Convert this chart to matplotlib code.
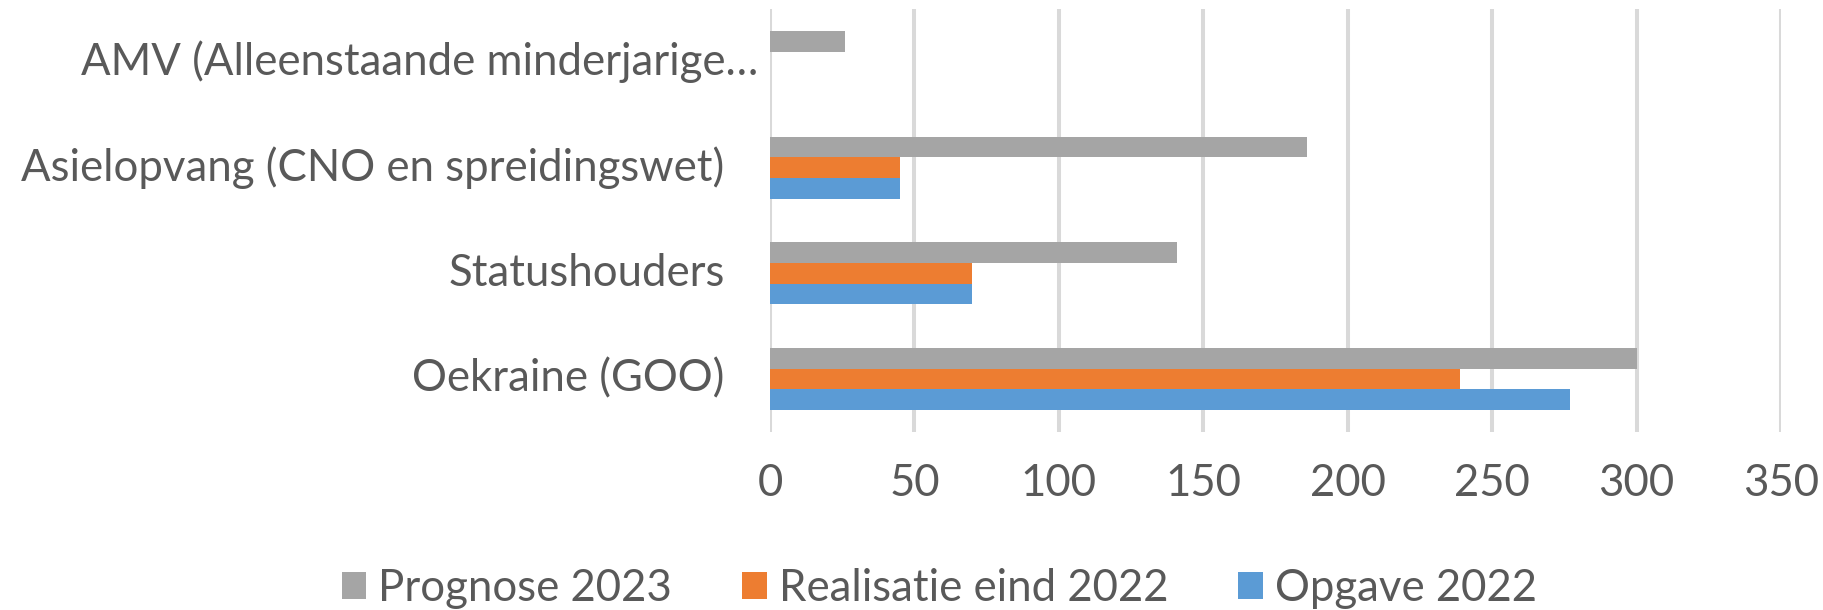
# horizontal grouped bar chart: opvang per categorie
import matplotlib
matplotlib.use('Agg')
import matplotlib.pyplot as plt
import numpy as np

# data (top to bottom as in the chart)
categories = ['AMV (Alleenstaande minderjarige\u2026',
              'Asielopvang (CNO en spreidingswet)',
              'Statushouders',
              'Oekraine (GOO)']
prognose2023 = [26, 186, 141, 300]
realisatie2022 = [0, 45, 70, 239]
opgave2022 = [0, 45, 70, 277]
xTicks = [0, 50, 100, 150, 200, 250, 300, 350]

# colours
grey = '#A5A5A5'
orange = '#ED7D31'
blue = '#5B9BD5'
textColor = '#595959'
gridColor = '#D9D9D9'

plt.rcParams['font.family'] = ['Lato', 'DejaVu Sans']
fontSize = 31.5

fig = plt.figure(figsize=(18.24, 6.10), dpi=100)
ax = fig.add_axes([770/1824, 1 - 432/610, 1011/1824, 423/610])

yPos = np.arange(len(categories))[::-1]  # first category at the top
h = 0.196

ax.barh(yPos - h, opgave2022, height=h, color=blue, label='Opgave 2022', zorder=3)
ax.barh(yPos, realisatie2022, height=h, color=orange, label='Realisatie eind 2022', zorder=3)
ax.barh(yPos + h, prognose2023, height=h, color=grey, label='Prognose 2023', zorder=3)

ax.set_xlim(0, 350)
ax.set_ylim(-0.5, len(categories) - 0.5)
ax.set_xticks(xTicks)
ax.set_xticklabels([str(x) for x in xTicks], fontsize=fontSize, color=textColor)
ax.tick_params(axis='x', length=0, pad=22)
ax.set_yticks([])

# gridlines
ax.grid(axis='x', color=gridColor, linewidth=2.9, zorder=0)
for s in ax.spines.values():
    s.set_visible(False)

# category labels (Excel puts the cut-off label a bit further right)
labelX = [-0.0119, -0.045, -0.045, -0.045]
for i, cat in enumerate(categories):
    ax.text(labelX[i], yPos[i], cat, transform=ax.get_yaxis_transform(),
            ha='right', va='center', fontsize=fontSize, color=textColor)

# legend in the order grey, orange, blue
handles, labels = ax.get_legend_handles_labels()
order = [2, 1, 0]
leg = fig.legend([handles[i] for i in order], [labels[i] for i in order],
                 loc='center', bbox_to_anchor=(0.515, 0.036), ncol=3,
                 frameon=False, fontsize=fontSize, handlelength=0.57,
                 handleheight=0.57, handletextpad=0.27, columnspacing=1.6,
                 borderpad=0)
for t in leg.get_texts():
    t.set_color(textColor)

fig.savefig('out.png', dpi=100)
